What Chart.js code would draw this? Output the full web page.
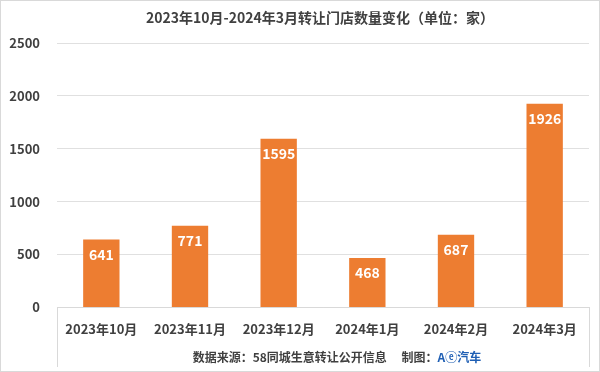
<!DOCTYPE html>
<html>
<head>
<meta charset="utf-8">
<script src="https://cdn.jsdelivr.net/npm/chart.js@4"></script>
<style>
  html, body { margin: 0; padding: 0; background: #fff; }
  #wrap { width: 600px; height: 372px; }
</style>
</head>
<body>
<div id="wrap"><canvas id="storeChart" width="600" height="372"></canvas></div>
<script>
const months = ['2023年10月', '2023年11月', '2023年12月', '2024年1月', '2024年2月', '2024年3月'];
const storeCounts = [641, 771, 1595, 468, 687, 1926];
const yTicks = [0, 500, 1000, 1500, 2000, 2500];
const titleText = '2023年10月-2024年3月转让门店数量变化（单位：家）';

const FONT = '"Noto Sans CJK SC", "Noto Sans", sans-serif';

// white numbers inside the top of each bar
const barLabels = {
  id: 'barLabels',
  afterDatasetsDraw(chart) {
    const ctx = chart.ctx;
    const meta = chart.getDatasetMeta(0);
    ctx.save();
    ctx.fillStyle = '#ffffff';
    ctx.font = 'bold 14px ' + FONT;
    ctx.textAlign = 'center';
    ctx.textBaseline = 'middle';
    meta.data.forEach((bar, i) => {
      ctx.fillText(storeCounts[i], bar.x, bar.y + 15);
    });
    ctx.restore();
  }
};

// title (a bit right of centre, like the original), source line and frame lines
const decor = {
  id: 'decor',
  afterDraw(chart) {
    const ctx = chart.ctx;
    const area = chart.chartArea;
    ctx.save();
    ctx.strokeStyle = '#d9d9d9';
    ctx.lineWidth = 1;
    ctx.strokeRect(0.5, 0.5, chart.width - 1, chart.height - 1);
    ctx.beginPath();
    ctx.moveTo(Math.round(area.left) + 0.5, area.bottom);
    ctx.lineTo(Math.round(area.left) + 0.5, chart.height - 5);
    ctx.moveTo(Math.round(area.right) + 0.5, area.bottom);
    ctx.lineTo(Math.round(area.right) + 0.5, chart.height - 5);
    ctx.stroke();

    ctx.textBaseline = 'middle';
    ctx.textAlign = 'center';
    ctx.fillStyle = '#404040';
    ctx.font = 'bold 14px ' + FONT;
    ctx.fillText(titleText, 320, 18);

    const src = '数据来源：58同城生意转让公开信息　 制图：';
    const logo = 'Aⓔ汽车';
    ctx.font = 'bold 12px ' + FONT;
    const w1 = ctx.measureText(src).width;
    const w2 = ctx.measureText(logo).width;
    let x = 337 - (w1 + w2) / 2;
    ctx.textAlign = 'left';
    ctx.fillText(src, x, 357);
    ctx.fillStyle = '#1f5fb4';
    ctx.fillText(logo, x + w1, 357);
    ctx.restore();
  }
};

new Chart(document.getElementById('storeChart'), {
  type: 'bar',
  data: {
    labels: months,
    datasets: [{
      label: '转让门店数量',
      data: storeCounts,
      backgroundColor: '#ed7d31',
      borderWidth: 0,
      categoryPercentage: 1,
      barPercentage: 0.41
    }]
  },
  options: {
    responsive: false,
    animation: false,
    layout: { padding: { left: 6, right: 11, top: 43, bottom: 29 } },
    plugins: {
      legend: { display: false },
      tooltip: { enabled: false }
    },
    scales: {
      x: {
        grid: { display: false },
        border: { color: '#d9d9d9' },
        ticks: {
          color: '#404040',
          font: { family: FONT, size: 13, weight: 'bold' },
          padding: 6,
          maxRotation: 0
        }
      },
      y: {
        min: 0,
        max: 2500,
        afterBuildTicks(axis) {
          axis.ticks = yTicks.map(v => ({ value: v }));
        },
        afterFit(axis) {
          axis.width = 51;
        },
        grid: { color: '#e0e0e0', drawTicks: false },
        border: { display: false },
        ticks: {
          color: '#404040',
          font: { family: FONT, size: 13, weight: 'bold' },
          padding: 17,
          callback: v => String(v)
        }
      }
    }
  },
  plugins: [barLabels, decor]
});
</script>
</body>
</html>
